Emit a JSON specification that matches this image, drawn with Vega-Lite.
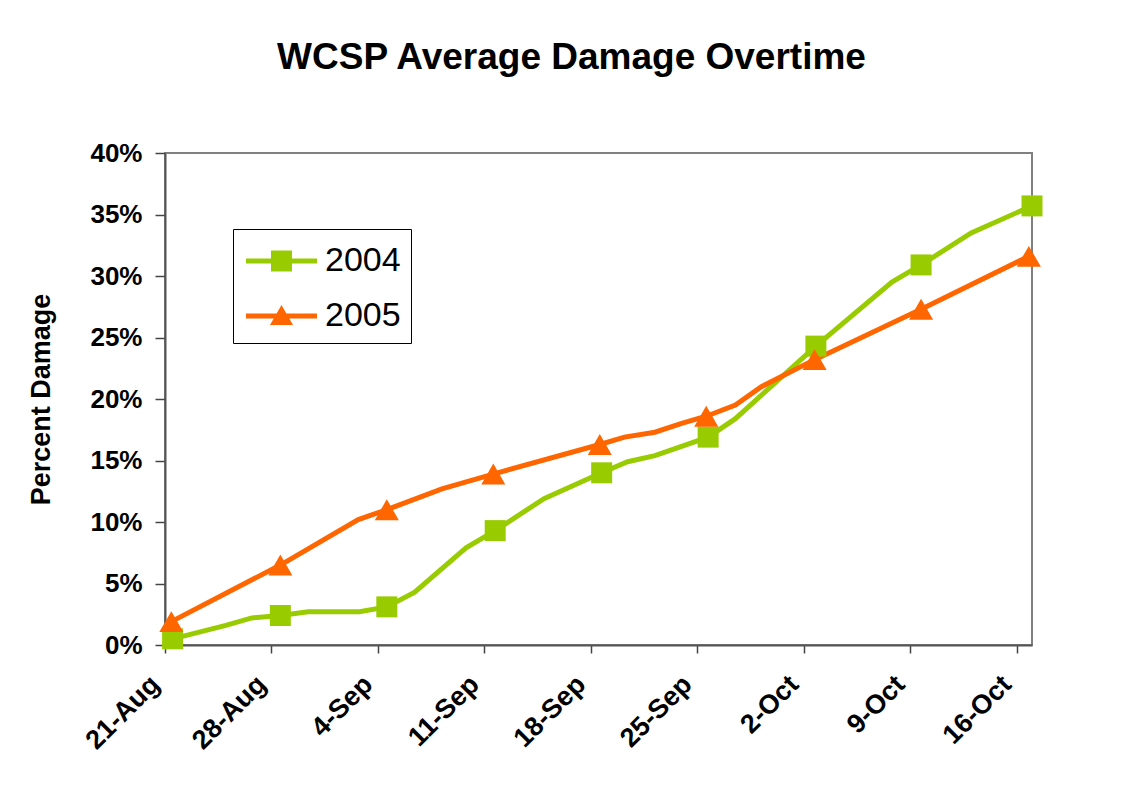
{
  "$schema": "https://vega.github.io/schema/vega-lite/v6.json",
  "autosize": "none",
  "width": 867,
  "height": 492,
  "padding": {"left": 165, "top": 153, "right": 95, "bottom": 142},
  "background": "white",
  "title": {
    "text": "WCSP Average Damage Overtime",
    "frame": "group",
    "anchor": "middle",
    "dx": -27,
    "offset": 63,
    "fontSize": 37,
    "font": "Liberation Sans",
    "fontWeight": "bold",
    "color": "black"
  },
  "data": {
    "values": [
      {"series": "2004", "date": "2005-08-21T12:00", "value": 0.005, "marker": true},
      {"series": "2004", "date": "2005-08-25T00:00", "value": 0.016, "marker": false},
      {"series": "2004", "date": "2005-08-26T17:00", "value": 0.022, "marker": false},
      {"series": "2004", "date": "2005-08-28T14:00", "value": 0.024, "marker": true},
      {"series": "2004", "date": "2005-08-30T10:00", "value": 0.027, "marker": false},
      {"series": "2004", "date": "2005-09-02T19:00", "value": 0.027, "marker": false},
      {"series": "2004", "date": "2005-09-04T14:00", "value": 0.031, "marker": true},
      {"series": "2004", "date": "2005-09-06T10:00", "value": 0.043, "marker": false},
      {"series": "2004", "date": "2005-09-09T19:00", "value": 0.079, "marker": false},
      {"series": "2004", "date": "2005-09-11T17:00", "value": 0.093, "marker": true},
      {"series": "2004", "date": "2005-09-14T22:00", "value": 0.119, "marker": false},
      {"series": "2004", "date": "2005-09-18T17:00", "value": 0.140, "marker": true},
      {"series": "2004", "date": "2005-09-20T10:00", "value": 0.149, "marker": false},
      {"series": "2004", "date": "2005-09-22T05:00", "value": 0.154, "marker": false},
      {"series": "2004", "date": "2005-09-25T17:00", "value": 0.169, "marker": true},
      {"series": "2004", "date": "2005-09-27T12:00", "value": 0.184, "marker": false},
      {"series": "2004", "date": "2005-10-02T19:00", "value": 0.243, "marker": true},
      {"series": "2004", "date": "2005-10-07T19:00", "value": 0.295, "marker": false},
      {"series": "2004", "date": "2005-10-09T17:00", "value": 0.309, "marker": true},
      {"series": "2004", "date": "2005-10-13T00:00", "value": 0.335, "marker": false},
      {"series": "2004", "date": "2005-10-17T00:00", "value": 0.357, "marker": true},
      {"series": "2005", "date": "2005-08-21T10:00", "value": 0.019, "marker": true},
      {"series": "2005", "date": "2005-08-28T14:00", "value": 0.065, "marker": true},
      {"series": "2005", "date": "2005-09-02T17:00", "value": 0.102, "marker": false},
      {"series": "2005", "date": "2005-09-04T14:00", "value": 0.110, "marker": true},
      {"series": "2005", "date": "2005-09-08T05:00", "value": 0.127, "marker": false},
      {"series": "2005", "date": "2005-09-11T14:00", "value": 0.139, "marker": true},
      {"series": "2005", "date": "2005-09-18T14:00", "value": 0.163, "marker": true},
      {"series": "2005", "date": "2005-09-20T05:00", "value": 0.169, "marker": false},
      {"series": "2005", "date": "2005-09-22T05:00", "value": 0.173, "marker": false},
      {"series": "2005", "date": "2005-09-23T22:00", "value": 0.180, "marker": false},
      {"series": "2005", "date": "2005-09-25T14:00", "value": 0.186, "marker": true},
      {"series": "2005", "date": "2005-09-27T12:00", "value": 0.195, "marker": false},
      {"series": "2005", "date": "2005-09-29T05:00", "value": 0.210, "marker": false},
      {"series": "2005", "date": "2005-10-02T17:00", "value": 0.232, "marker": true},
      {"series": "2005", "date": "2005-10-09T17:00", "value": 0.273, "marker": true},
      {"series": "2005", "date": "2005-10-16T19:00", "value": 0.316, "marker": true}
    ]
  },
  "encoding": {
    "x": {
      "field": "date",
      "type": "temporal",
      "scale": {
        "domain": [
          {"year": 2005, "month": 8, "date": 21},
          {"year": 2005, "month": 10, "date": 17}
        ]
      },
      "axis": {
        "title": null,
        "values": [
          {"year": 2005, "month": 8, "date": 21},
          {"year": 2005, "month": 8, "date": 28},
          {"year": 2005, "month": 9, "date": 4},
          {"year": 2005, "month": 9, "date": 11},
          {"year": 2005, "month": 9, "date": 18},
          {"year": 2005, "month": 9, "date": 25},
          {"year": 2005, "month": 10, "date": 2},
          {"year": 2005, "month": 10, "date": 9},
          {"year": 2005, "month": 10, "date": 16}
        ],
        "format": "%-d-%b",
        "labelAngle": -45,
        "labelAlign": "right",
        "labelBaseline": "middle",
        "labelPadding": 27,
        "labelOffset": -10,
        "labelFontSize": 27,
        "labelFont": "Liberation Sans",
        "labelFontWeight": "bold",
        "labelColor": "black",
        "labelOverlap": false,
        "labelFlush": false,
        "grid": false,
        "tickSize": 8,
        "tickColor": "#444",
        "tickWidth": 1.5,
        "domainColor": "#555",
        "domainWidth": 2
      }
    },
    "y": {
      "field": "value",
      "type": "quantitative",
      "scale": {"domain": [0, 0.4], "nice": false},
      "axis": {
        "title": "Percent Damage",
        "titleFontSize": 27,
        "titleFont": "Liberation Sans",
        "titleFontWeight": "bold",
        "titleColor": "black",
        "titlePadding": 34,
        "values": [0, 0.05, 0.1, 0.15, 0.2, 0.25, 0.3, 0.35, 0.4],
        "format": ".0%",
        "labelFontSize": 26,
        "labelFont": "Liberation Sans",
        "labelFontWeight": "bold",
        "labelColor": "black",
        "labelPadding": 13,
        "grid": false,
        "tickSize": 10,
        "tickColor": "#444",
        "tickWidth": 1.5,
        "domainColor": "#555",
        "domainWidth": 2
      }
    },
    "color": {
      "field": "series",
      "type": "nominal",
      "scale": {"domain": ["2004", "2005"], "range": ["#99CC00", "#FF6600"]},
      "legend": {
        "title": null,
        "orient": "none",
        "legendX": 68,
        "legendY": 76,
        "symbolSize": 1936,
        "labelFontSize": 34,
        "labelFont": "Liberation Sans",
        "labelColor": "black",
        "labelOffset": 38,
        "padding": 10,
        "rowPadding": 16,
        "strokeColor": "black",
        "fillColor": "white",
        "encode": {
          "symbols": {
            "update": {
              "shape": {"signal": "datum.value === '2004' ? 'M-0.864,-0.114H2.364V0.114H-0.864Z M0.273,-0.477H1.227V0.477H0.273Z' : 'M-0.864,-0.114H2.364V0.114H-0.864Z M0.75,-0.5L1.273,0.41H0.227Z'"},
              "fill": {"signal": "datum.value === '2004' ? '#99CC00' : '#FF6600'"},
              "fillOpacity": {"value": 1},
              "opacity": {"value": 1},
              "strokeWidth": {"value": 0}
            }
          }
        }
      }
    }
  },
  "layer": [
    {
      "mark": {"type": "line", "strokeWidth": 5, "interpolate": "linear"}
    },
    {
      "transform": [{"filter": "datum.marker && datum.series === '2004'"}],
      "mark": {"type": "point", "shape": "square", "filled": true, "opacity": 1, "size": 441}
    },
    {
      "transform": [{"filter": "datum.marker && datum.series === '2005'"}],
      "mark": {"type": "point", "shape": "triangle-up", "filled": true, "opacity": 1, "size": 580}
    }
  ],
  "config": {
    "view": {"stroke": "#808080", "strokeWidth": 2}
  }
}
